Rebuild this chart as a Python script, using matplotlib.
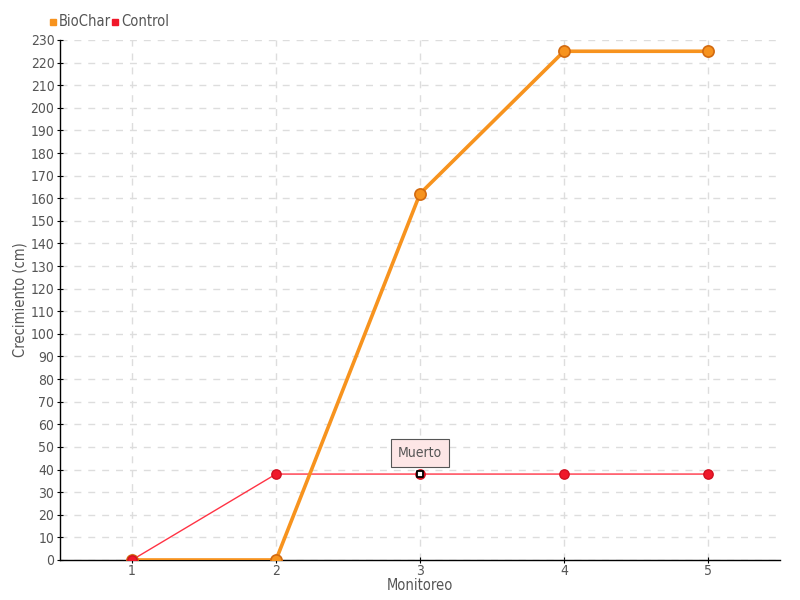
import matplotlib.pyplot as plt
from matplotlib.patches import Rectangle

plt.rcParams['font.family'] = ['DejaVu Sans']
plt.rcParams['font.stretch'] = 'condensed'

monitoreo = [1, 2, 3, 4, 5]
biochar = [0, 0, 162, 225, 225]
control = [0, 38, 38, 38, 38]
y_ticks = list(range(0, 231, 10))

orange = '#f7931e'
red = '#f0182a'
text_c = '#555555'

fig = plt.figure(figsize=(8, 6), dpi=100)
ax = fig.add_axes([0.075, 0.0667, 0.9, 0.8667])

ax.plot(monitoreo, control, color='#ff3344', lw=1, zorder=3)
ax.plot(monitoreo, biochar, color=orange, lw=2.6, zorder=5)
ax.scatter(monitoreo, biochar, s=65, color=orange, edgecolors='#d26a10', linewidths=1.2, zorder=6)
ax.scatter(monitoreo, control, s=45, color=red, edgecolors='#d01020', linewidths=1, zorder=7)

# dead plant marker + tooltip
ax.scatter([3], [control[2]], s=22, marker='s', color='white', edgecolors='black', linewidths=1.3, zorder=8)
ax.annotate('Muerto', xy=(3, control[2]), xytext=(0, 15), textcoords='offset points',
            ha='center', va='center', fontsize=10, color=text_c,
            bbox=dict(boxstyle='square,pad=0.5', fc='#fde6e6', ec='#555555', lw=0.8),
            zorder=9)

ax.set_xlim(0.5, 5.5)
ax.set_ylim(0, 230)
ax.set_xticks(monitoreo)
ax.set_yticks(y_ticks)
ax.tick_params(axis='both', colors='black', labelcolor=text_c, labelsize=10, length=4, direction='inout')
ax.tick_params(axis='x', pad=1)
ax.tick_params(axis='y', pad=2)
ax.grid(True, color='#dddddd', ls=(0, (5, 5)), lw=1)
ax.set_axisbelow(True)
for s in ['top', 'right']:
    ax.spines[s].set_visible(False)
for s in ['left', 'bottom']:
    ax.spines[s].set_color('black')
    ax.spines[s].set_linewidth(1)

ax.set_xlabel('Monitoreo', color=text_c, fontsize=10.5, labelpad=0)
ax.set_ylabel('Crecimiento (cm)', color=text_c, fontsize=10.5)
ax.yaxis.set_label_coords(-32 / 720, 0.5)

# legend
fig.add_artist(Rectangle((50 / 800, 1 - 25 / 600), 6 / 800, 6 / 600, color=orange, transform=fig.transFigure))
fig.text(59 / 800, 1 - 22 / 600, 'BioChar', color=text_c, fontsize=10.5, va='center')
fig.add_artist(Rectangle((112 / 800, 1 - 25 / 600), 6 / 800, 6 / 600, color=red, transform=fig.transFigure))
fig.text(121 / 800, 1 - 22 / 600, 'Control', color=text_c, fontsize=10.5, va='center')

fig.savefig('out.png', dpi=100)
